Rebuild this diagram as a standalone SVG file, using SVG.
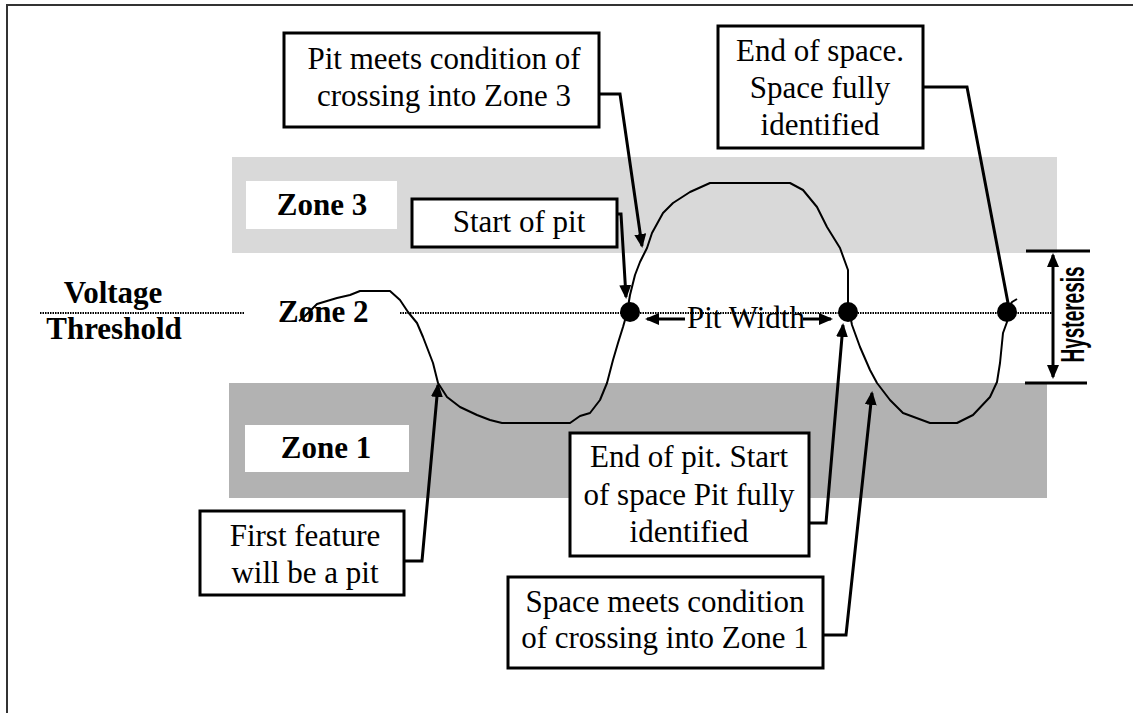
<svg xmlns="http://www.w3.org/2000/svg" width="1133" height="713" viewBox="0 0 1133 713">
<style>
.box{fill:#fff;stroke:#000;stroke-width:3}
.t{font-family:"Liberation Serif","Times New Roman",serif;font-size:31px;fill:#000}
.c{text-anchor:middle}
.b{font-weight:bold}
.con{fill:none;stroke:#000;stroke-width:3;stroke-linejoin:miter}
.dot{fill:#000}
.thr{fill:none;stroke:#000;stroke-width:2;stroke-dasharray:1.5 1}
</style>
<defs>
<marker id="ah" viewBox="0 0 14 12" refX="12" refY="6" markerWidth="14" markerHeight="12" markerUnits="userSpaceOnUse" orient="auto-start-reverse">
<path d="M0,0 L14,6 L0,12 z" fill="#000"/>
</marker>
</defs>
<rect width="1133" height="713" fill="#fff"/>
<rect x="7" y="5" width="1140" height="720" fill="none" stroke="#333" stroke-width="2"/>

<g id="zone3">
<rect x="232" y="157" width="825" height="96" fill="#d9d9d9"/>
<rect x="246" y="181" width="151" height="48" fill="#fff"/>
<text class="t b c" x="322" y="215">Zone 3</text>
</g>
<g id="zone1">
<rect x="229" y="383" width="818" height="115" fill="#b2b2b2"/>
<rect x="245" y="425" width="164" height="47" fill="#fff"/>
<text class="t b c" x="326" y="458">Zone 1</text>
</g>

<g id="threshold">
<path class="thr" d="M40,313 H245 M400,313 H1053"/>
<text class="t b c" x="113" y="303">Voltage</text>
<text class="t b c" x="114" y="339">Threshold</text>
</g>
<g id="zone2">
<text class="t b" x="278" y="322">Zone 2</text>
</g>

<g id="waveform">
<path fill="none" stroke="#000" stroke-width="2" stroke-linejoin="round" d="M299,321 L305,316 L317,304 L337,298 L350,295 L360,291 L390,291 L400,300 L408,312 L417,323 L423,337 L433,363 L438,383 L447,397 L460,407 L477,415 L490,420 L502,423 L570,423 L580,416 L590,413 L600,400 L607,383 L613,360 L618,343 L623,327 L627,313 L630,295 L635,275 L640,262 L647,248 L652,233 L663,213 L673,203 L690,192 L710,183 L790,183 L803,190 L817,207 L827,227 L840,248 L848,270 L848,305 L852,325 L860,347 L870,370 L877,383 L890,400 L903,413 L930,423 L957,423 L973,415 L990,397 L997,382 L1000,363 L1003,333 L1007,322 L1007,312 L1012,302 L1017,299"/>
<circle class="dot" cx="630" cy="312" r="10"/>
<circle class="dot" cx="848" cy="312" r="10"/>
<circle class="dot" cx="1007" cy="312" r="10"/>
</g>

<g id="pit-meets">
<rect class="box" x="284" y="33" width="315" height="94"/>
<text class="t c" x="444" y="69">Pit meets condition of</text>
<text class="t c" x="444" y="106">crossing into Zone 3</text>
</g>
<g id="start-of-pit">
<rect class="box" x="412" y="199" width="205" height="48"/>
<text class="t c" x="519" y="232">Start of pit</text>
</g>
<g id="end-of-space">
<rect class="box" x="718" y="26" width="205" height="122"/>
<text class="t c" x="820" y="61">End of space.</text>
<text class="t c" x="820" y="98">Space fully</text>
<text class="t c" x="820" y="135">identified</text>
</g>
<g id="first-feature">
<rect class="box" x="200" y="511" width="204" height="84"/>
<text class="t c" x="305" y="546">First feature</text>
<text class="t c" x="305" y="583">will be a pit</text>
</g>
<g id="end-of-pit">
<rect class="box" x="570" y="433" width="239" height="123"/>
<text class="t c" x="689" y="467">End of pit. Start</text>
<text class="t c" x="689" y="505">of space Pit fully</text>
<text class="t c" x="689" y="542">identified</text>
</g>
<g id="space-meets">
<rect class="box" x="508" y="577" width="315" height="91"/>
<text class="t c" x="665" y="612">Space meets condition</text>
<text class="t c" x="665" y="648">of crossing into Zone 1</text>
</g>
<g id="pit-width">
<text class="t" x="687" y="328">Pit Width</text>
</g>
<g id="hysteresis">
<path class="con" d="M1026,251 H1090 M1025,383 H1087"/>
<text transform="translate(1084,314.5) rotate(-90)" text-anchor="middle" font-family="'Liberation Sans',Arial,sans-serif" font-weight="bold" font-size="33" textLength="96" lengthAdjust="spacingAndGlyphs">Hysteresis</text>
</g>

<g id="connectors">
<path class="con" d="M599,94 H620 L642,246" marker-end="url(#ah)"/>
<path class="con" d="M617,214 H621 L626,297" marker-end="url(#ah)"/>
<path class="con" d="M923,87 H967 L1008,303"/>
<path class="con" d="M404,561 H422 L438,385" marker-end="url(#ah)"/>
<path class="con" d="M809,523 H826 L843,325" marker-end="url(#ah)"/>
<path class="con" d="M823,635 H846 L872,393" marker-end="url(#ah)"/>
<path class="con" d="M685,319 L647,319" marker-end="url(#ah)"/>
<path class="con" d="M803,319 L831,319" marker-end="url(#ah)"/>
<path class="con" d="M1053,377 L1053,255" marker-start="url(#ah)" marker-end="url(#ah)"/>
</g>
</svg>
